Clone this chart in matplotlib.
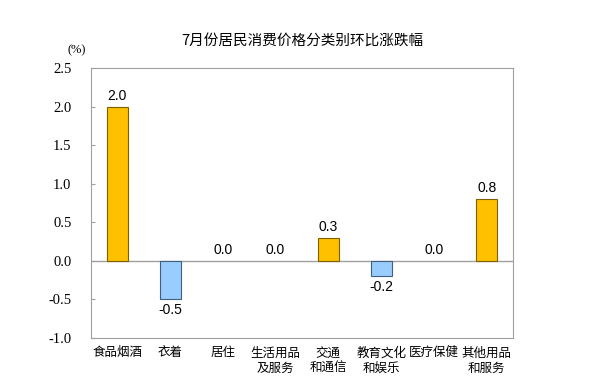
import matplotlib.pyplot as plt

categories = ['食品烟酒', '衣着', '居住', '生活用品\n及服务', '交通\n和通信', '教育文化\n和娱乐', '医疗保健', '其他用品\n和服务']
values = [2.0, -0.5, 0.0, 0.0, 0.3, -0.2, 0.0, 0.8]
yticks = [-1.0, -0.5, 0.0, 0.5, 1.0, 1.5, 2.0, 2.5]

plt.rcParams['font.serif'] = ['Liberation Serif', 'DejaVu Serif']
cjk = ['Noto Sans CJK SC', 'DejaVu Sans']

fig = plt.figure(figsize=(5.89, 3.88), dpi=100)
ax = fig.add_axes([91 / 589, 1 - 338 / 388, 422 / 589, 270 / 388])

colors = ['#FFC000' if v >= 0 else '#99CCFF' for v in values]
edges = ['#7F6000' if v >= 0 else '#3F5F7F' for v in values]
widths = [0.8 if v != 0 else 0 for v in values]
x = list(range(len(categories)))
bars = ax.bar(x, values, width=0.4, color=colors, edgecolor=edges, linewidth=widths, zorder=3)

for rect, v in zip(bars, values):
    if v >= 0:
        ax.text(rect.get_x() + rect.get_width() / 2, v + 0.05, f'{v:.1f}',
                ha='center', va='bottom', fontsize=10, family='Liberation Sans')
    else:
        ax.text(rect.get_x() + rect.get_width() / 2, v - 0.05, f'{v:.1f}',
                ha='center', va='top', fontsize=10, family='Liberation Sans')

ax.axhline(0, color='#A0A0A0', linewidth=1, zorder=2)
ax.set_xlim(-0.5, len(categories) - 0.5)
ax.set_ylim(-1.0, 2.5)
ax.set_yticks(yticks)
ax.set_yticklabels([f'{t:.1f}' for t in yticks], fontfamily='serif', fontsize=10.5)
ax.set_xticks(x)
ax.set_xticklabels(categories, family=cjk, fontsize=9, linespacing=1.25)
ax.tick_params(axis='x', length=0, pad=6)
ax.tick_params(axis='y', direction='in', length=3, color='#A0A0A0', pad=14)
for s in ax.spines.values():
    s.set_color('#A0A0A0')

fig.text(77 / 589, 1 - 50 / 388, '(%)', fontfamily='serif', fontsize=9, ha='center', va='center')
fig.text(302 / 589, 1 - 41 / 388, '7月份居民消费价格分类别环比涨跌幅', family=cjk, fontsize=10.5,
         ha='center', va='center')

fig.savefig('out.png', dpi=100)
